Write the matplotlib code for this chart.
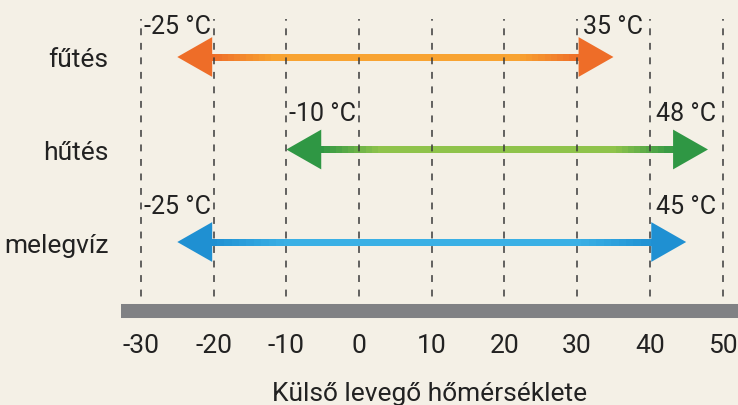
import numpy as np
import matplotlib.pyplot as plt
from matplotlib.collections import LineCollection
from matplotlib.colors import to_rgb

plt.rcParams['font.family'] = ['Roboto', 'DejaVu Sans']

# data
modes = ['fűtés', 'hűtés', 'melegvíz']
t_min = [-25, -10, -25]
t_max = [35, 48, 45]
grid_ticks = [-30, -20, -10, 0, 10, 20, 30, 40, 50]
xlabel = 'Külső levegő hőmérséklete'

head_dark = ['#ee6d28', '#2f9744', '#1f90d2']
shaft_light = ['#f8a331', '#8fc34b', '#3ab0e5']

bg = '#f4f0e6'
head_len = 4.8     # in degrees
head_half = 0.215  # in row units

fig = plt.figure(figsize=(7.38, 4.06), dpi=100, facecolor=bg)
ax = fig.add_axes([0.164, 0.2315, 0.836, 0.7193])
ax.set_facecolor(bg)
ax.set_xlim(-32.74, 52.13)
ax.set_ylim(2.746, -0.411)

for s in ['top', 'right', 'left']:
    ax.spines[s].set_visible(False)
ax.spines['bottom'].set_color('#808184')
ax.spines['bottom'].set_linewidth(10.1)
ax.spines['bottom'].set_capstyle('butt')

ax.set_xticks(grid_ticks)
ax.set_xticklabels([str(t) for t in grid_ticks], fontsize=19, color='#222222')
ax.set_yticks(range(len(modes)))
ax.set_yticklabels(modes, fontsize=19, color='#222222')
ax.tick_params(axis='x', length=0, pad=16)
ax.tick_params(axis='y', length=0, pad=9)
ax.set_xlabel(xlabel, fontsize=19, color='#222222', labelpad=17)

for t in grid_ticks:
    ax.axvline(t, color='#3a3a3a', lw=1.1, dashes=(4.5, 5), zorder=2)

for i, name in enumerate(modes):
    lo, hi = t_min[i], t_max[i]
    a, b = lo + head_len, hi - head_len
    # gradient shaft: darker near the heads
    xs = np.linspace(a, b, 60)
    d = np.minimum(xs - a, b - xs) / ((b - a) / 2)
    w = np.clip(d * 3, 0, 1)[:-1]
    c0, c1 = np.array(to_rgb(head_dark[i])), np.array(to_rgb(shaft_light[i]))
    cols = c0[None, :] * (1 - w[:, None]) + c1[None, :] * w[:, None]
    segs = [[(xs[k], i), (xs[k + 1], i)] for k in range(len(xs) - 1)]
    ax.add_collection(LineCollection(segs, colors=cols, linewidths=3.8,
                                     capstyle='projecting', antialiaseds=False,
                                     zorder=1))
    # arrow heads
    ax.fill([lo, a, a], [i, i - head_half, i + head_half], color=head_dark[i],
            lw=0, zorder=3)
    ax.fill([hi, b, b], [i, i - head_half, i + head_half], color=head_dark[i],
            lw=0, zorder=3)
    # temperature labels, centred between the dashed lines
    for v in (lo, hi):
        lx = np.floor(v / 10) * 10 + 5
        ly = max(i - 0.39, -0.34)
        ax.text(lx, ly, f'{v} °C', ha='center', va='center', fontsize=18,
                color='#222222', zorder=4)

fig.savefig('out.png', dpi=100, facecolor=bg)
